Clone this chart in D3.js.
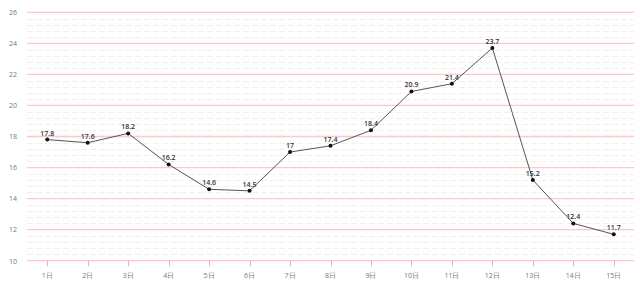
<!DOCTYPE html>
<html><head><meta charset="utf-8">
<script src="https://cdn.jsdelivr.net/npm/d3@7"></script>
<style>body{margin:0;background:#fff}svg{display:block}</style>
</head><body>
<svg id="c" width="640" height="281"></svg>
<script>
const categories = ["1日","2日","3日","4日","5日","6日","7日","8日","9日","10日","11日","12日","13日","14日","15日"];
const values = [17.8,17.6,18.2,16.2,14.6,14.5,17,17.4,18.4,20.9,21.4,23.7,15.2,12.4,11.7];
const yTicks = [10,12,14,16,18,20,22,24,26];

(function () {
const svg = d3.select("#c");
const pLeft = 27, pRight = 634, pTop = 12.3, pBottom = 260.7;
const x = d3.scaleBand().domain(categories).range([pLeft, pRight]);
const y = d3.scaleLinear().domain([10, 26]).range([pBottom, pTop]);
const cx = d => x(d) + x.bandwidth() / 2;
const font = "'Open Sans', 'DejaVu Sans', sans-serif";

// minor dashed grid
const minor = d3.range(0, 41).map(i => 10 + i * 0.4).filter((v, i) => i % 5 !== 0);
svg.append("g").selectAll("line").data(minor).join("line")
  .attr("x1", pLeft).attr("x2", pRight)
  .attr("y1", d => Math.round(y(d)) + 0.5).attr("y2", d => Math.round(y(d)) + 0.5)
  .attr("stroke", "#f6eded").attr("stroke-dasharray", "6,3").attr("stroke-width", 1);

// major grid
svg.append("g").selectAll("line").data(yTicks).join("line")
  .attr("x1", pLeft).attr("x2", pRight)
  .attr("y1", d => y(d)).attr("y2", d => y(d))
  .attr("stroke", "#fcc8c8").attr("stroke-width", 1.3);

// y labels
svg.append("g").selectAll("text").data(yTicks).join("text")
  .attr("x", 17).attr("y", d => y(d) + 2.8).attr("text-anchor", "end")
  .attr("font-family", font).attr("font-size", 7).attr("fill", "#777")
  .text(d => d);

// x ticks
svg.append("g").selectAll("line").data(categories).join("line")
  .attr("x1", d => Math.round(cx(d)) + 0.5).attr("x2", d => Math.round(cx(d)) + 0.5)
  .attr("y1", pBottom).attr("y2", pBottom + 5.5)
  .attr("stroke", "#f7a8a8").attr("stroke-width", 1);
svg.append("g").selectAll("text").data(categories).join("text")
  .attr("x", d => cx(d)).attr("y", 277.5).attr("text-anchor", "middle")
  .attr("font-family", font).attr("font-size", 7).attr("fill", "#777")
  .text(d => d);

// line
const line = d3.line().x((d, i) => cx(categories[i])).y(d => y(d));
svg.append("path").datum(values).attr("d", line)
  .attr("fill", "none").attr("stroke", "#555").attr("stroke-width", 1);

// points
svg.append("g").selectAll("circle").data(values).join("circle")
  .attr("cx", (d, i) => cx(categories[i])).attr("cy", d => y(d)).attr("r", 2)
  .attr("fill", "#111");

// labels
svg.append("g").selectAll("text").data(values).join("text")
  .attr("x", (d, i) => cx(categories[i])).attr("y", d => y(d) - 4)
  .attr("text-anchor", "middle")
  .attr("font-family", font).attr("font-size", 7).attr("font-weight", "600").attr("fill", "#333")
  .text(d => d);
})();
</script>
</body></html>
